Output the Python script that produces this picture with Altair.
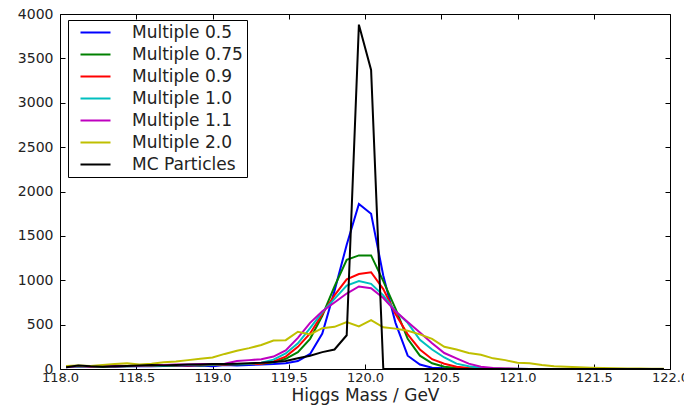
import altair as alt
import pandas as pd

# Bin centres (GeV)
mass = [118.04, 118.12, 118.20, 118.28, 118.36, 118.44, 118.52, 118.60, 118.68, 118.76,
        118.84, 118.92, 119.00, 119.08, 119.16, 119.24, 119.32, 119.40, 119.48, 119.56,
        119.64, 119.72, 119.80, 119.88, 119.96, 120.04, 120.12, 120.20, 120.28, 120.36,
        120.44, 120.52, 120.60, 120.68, 120.76, 120.84, 120.92, 121.00, 121.08, 121.16,
        121.24, 121.32, 121.40, 121.48, 121.56, 121.64, 121.72, 121.80, 121.88, 121.96]

mult_05 = [20, 30, 25, 30, 25, 30, 35, 30, 35, 40, 35, 40, 30, 45, 40, 45, 50, 55, 65, 90,
           170, 400, 880, 1400, 1860, 1750, 1050, 520, 150, 50, 15, 8, 5, 3, 2, 1, 1,
           0, 0, 0, 0, 0, 0, 0, 0, 0, 0, 0, 0, 0]
mult_075 = [25, 30, 30, 25, 35, 30, 35, 40, 35, 40, 45, 40, 45, 50, 50, 55, 60, 75, 115, 190,
            340, 600, 930, 1230, 1280, 1280, 990, 680, 340, 150, 65, 25, 12, 6, 3, 2, 1,
            0, 0, 0, 0, 0, 0, 0, 0, 0, 0, 0, 0, 0]
mult_09 = [25, 30, 25, 35, 30, 35, 40, 35, 40, 45, 40, 45, 50, 50, 55, 55, 60, 85, 140, 250,
           400, 620, 830, 1010, 1070, 1090, 900, 620, 390, 220, 110, 60, 25, 12, 6, 3, 2, 1,
           0, 0, 0, 0, 0, 0, 0, 0, 0, 0, 0, 0]
mult_10 = [30, 25, 30, 30, 35, 35, 40, 40, 35, 45, 45, 50, 50, 55, 55, 60, 70, 105, 175, 290,
           460, 640, 790, 940, 990, 960, 830, 650, 520, 330, 220, 130, 60, 30, 15, 7, 3, 2, 1,
           0, 0, 0, 0, 0, 0, 0, 0, 0, 0, 0]
mult_11 = [25, 30, 30, 35, 40, 35, 40, 45, 45, 50, 50, 55, 55, 60, 90, 100, 110, 140, 210, 350,
           520, 650, 750, 850, 930, 910, 800, 650, 530, 410, 290, 180, 120, 60, 25, 10, 5, 3, 1,
           0, 0, 0, 0, 0, 0, 0, 0, 0, 0, 0]
mult_20 = [35, 40, 35, 45, 55, 65, 50, 60, 75, 85, 100, 115, 130, 170, 205, 235, 270, 320, 325, 420,
           390, 460, 475, 530, 480, 550, 470, 455, 430, 390, 340, 250, 220, 180, 160, 120, 100, 70, 65, 45,
           30, 25, 20, 15, 10, 8, 5, 5, 3, 2]
mc_particles = [20, 40, 30, 25, 30, 35, 40, 45, 40, 45, 50, 50, 55, 55, 60, 65, 70, 80, 90, 120,
                150, 190, 220, 380, 3880, 3370, 0, 0, 0, 0, 0, 0, 0, 0, 0, 0, 0, 0, 0, 0,
                0, 0, 0, 0, 0, 0, 0, 0, 0, 0]

series_names = ["Multiple 0.5", "Multiple 0.75", "Multiple 0.9", "Multiple 1.0",
                "Multiple 1.1", "Multiple 2.0", "MC Particles"]
series_values = [mult_05, mult_075, mult_09, mult_10, mult_11, mult_20, mc_particles]
series_colors = ["#0000ff", "#008000", "#ff0000", "#00bfbf", "#bf00bf", "#bfbf00", "#000000"]

x_ticks = [118.0, 118.5, 119.0, 119.5, 120.0, 120.5, 121.0, 121.5, 122.0]
y_ticks = [0, 500, 1000, 1500, 2000, 2500, 3000, 3500, 4000]

rows = []
for order, (name, vals) in enumerate(zip(series_names, series_values)):
    for m, v in zip(mass, vals):
        rows.append({"mass": m, "count": v, "series": name, "order": order})
df = pd.DataFrame(rows)

W, H = 610, 355
xscale = alt.Scale(domain=[118, 122], nice=False, zero=False)
yscale = alt.Scale(domain=[0, 4000], nice=False)

base = alt.Chart(df)

lines = base.mark_line(strokeWidth=2).encode(
    x=alt.X("mass:Q", scale=xscale,
            axis=alt.Axis(values=x_ticks, format=".1f", ticks=False, domain=False,
                          labelPadding=2, labelFlush=False, labelOverlap=False,
                          labelFontSize=13,
                          title="Higgs Mass / GeV", titleFontSize=17, titlePadding=3,
                          titleFontWeight="normal")),
    y=alt.Y("count:Q", scale=yscale,
            axis=alt.Axis(values=y_ticks, format="d", ticks=False, domain=False,
                          labelPadding=7, labelFlush=False, labelOverlap=False, title=None)),
    color=alt.Color("series:N", sort=series_names,
                    scale=alt.Scale(domain=series_names, range=series_colors),
                    legend=alt.Legend(orient="none", legendX=8, legendY=6, title=None,
                                      symbolType="M-2,0H2", symbolSize=225,
                                      symbolStrokeWidth=2, symbolOffset=15,
                                      labelFontSize=17, labelOffset=28, rowPadding=4,
                                      padding=4, strokeColor="black", fillColor="white",
                                      labelColor="#222222", labelFont="DejaVu Sans")),
    order=alt.Order("order:Q"),
    detail="series:N",
)

ticks_a = base.mark_point(opacity=0).encode(
    x=alt.X("mass:Q", scale=xscale,
            axis=alt.Axis(orient="top", offset=-H, values=x_ticks, labels=False,
                          domain=False, ticks=True, tickSize=5, title=None)),
    y=alt.Y("count:Q", scale=yscale,
            axis=alt.Axis(orient="right", offset=-W, values=y_ticks, labels=False,
                          domain=False, ticks=True, tickSize=5, title=None)),
)
ticks_b = base.mark_point(opacity=0).encode(
    x=alt.X("mass:Q", scale=xscale,
            axis=alt.Axis(orient="bottom", offset=-H, values=x_ticks, labels=False,
                          domain=False, ticks=True, tickSize=5, title=None)),
    y=alt.Y("count:Q", scale=yscale,
            axis=alt.Axis(orient="left", offset=-W, values=y_ticks, labels=False,
                          domain=False, ticks=True, tickSize=5, title=None)),
)

chart = alt.layer(lines, ticks_a, ticks_b).resolve_axis(
    x="independent", y="independent"
).properties(
    width=W, height=H,
    autosize=alt.AutoSizeParams(type="none"),
    padding={"left": 52, "top": 6, "right": 14, "bottom": 36},
    background="white",
).configure_view(
    stroke="black", strokeWidth=1
).configure_axis(
    labelFont="DejaVu Sans", labelFontSize=14, labelColor="#222222",
    titleFont="DejaVu Sans", titleColor="#222222", tickColor="black", grid=False
)

chart.save("out.html", embed_options={"renderer": "svg", "actions": False})
